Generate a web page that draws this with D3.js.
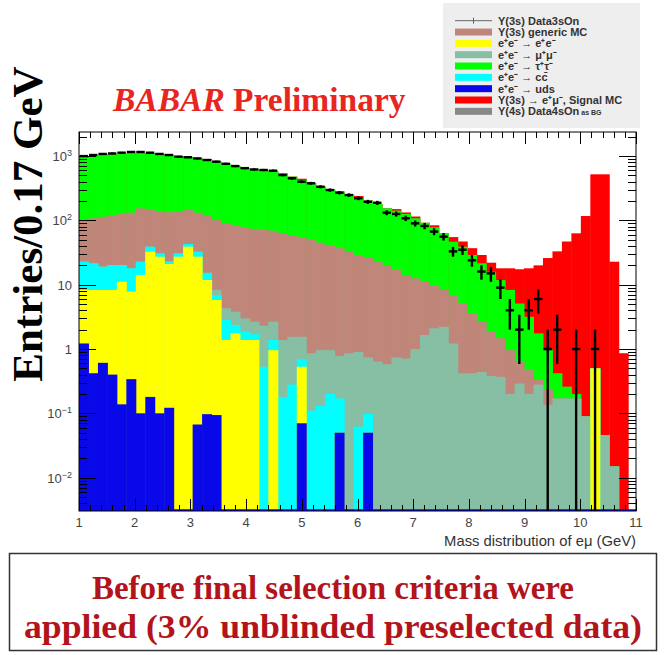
<!DOCTYPE html>
<html>
<head>
<meta charset="utf-8">
<script src="https://cdn.jsdelivr.net/npm/d3@7"></script>
<style>
  html, body { margin: 0; padding: 0; background: #fff; }
  svg { display: block; }
</style>
</head>
<body>
<div id="chart"></div>
<script>
// ── Histogram binning ────────────────────────────────────────────────────
const binStart = 1.0;
const binWidth = 0.17; // GeV, 59 bins

// ── Stack levels (cumulative, as THStack draws them), bins 0..58 ────────
const sumUds = [
  1.22, 0.42, 0.61, 0.40, 0.138, 0.34, 0.10, 0.18, 0.10, 0.122,
  0, 0, 0.067, 0.097, 0.094, 0, 0, 0, 0, 0,
  0, 0, 0, 0.07, 0, 0, 0, 0.05, 0, 0,
  0.05, 0, 0, 0, 0, 0, 0, 0, 0, 0,
  0, 0, 0, 0, 0, 0, 0, 0, 0, 0,
  0, 0, 0, 0, 0, 0, 0, 0, 0,
];
const sumEe = [
  8.3, 8.3, 8.3, 8.3, 11.1, 7.8, 14.2, 32.6, 27.3, 21,
  27.3, 39, 27.3, 11.8, 5.8, 1.38, 1.75, 1.38, 1.38, 0,
  0.96, 0, 0, 0.53, 0, 0, 0, 0.05, 0, 0,
  0.05, 0, 0, 0, 0, 0, 0, 0, 0, 0,
  0, 0, 0, 0, 0, 0, 0, 0, 0, 0,
  0, 0, 0, 0, 0.5, 0, 0, 0, 0,
];
const sumCc = [
  22.8, 21.5, 19.1, 20.2, 20.2, 18, 22.8, 39, 30.7, 23,
  30.7, 43, 32.6, 15, 6.9, 2.83, 2.36, 1.86, 1.7, 0.53,
  1.38, 0.18, 0.28, 0.69, 0.11, 0.13, 0.2, 0.17, 0, 0.062,
  0.098, 0, 0, 0, 0, 0, 0, 0, 0, 0,
  0, 0, 0, 0, 0, 0, 0, 0, 0, 0,
  0, 0, 0, 0, 0.5, 0, 0, 0, 0,
];
const sumMumu = [
  22.8, 21.5, 19.1, 20.2, 20.2, 18, 22.8, 39, 30.7, 23,
  30.7, 43, 32.6, 15.5, 8.3, 4.3, 3.8, 3.0, 2.66, 2.3,
  2.66, 1.38, 1.55, 1.55, 0.86, 0.96, 0.96, 0.78, 0.86, 0.9,
  0.74, 0.64, 0.58, 0.74, 0.71, 1.0, 1.65, 2.1, 2.22, 1.22,
  0.42, 0.42, 0.44, 0.38, 0.37, 0.2, 0.29, 0.2, 0.28, 0.135,
  0.17, 0.17, 0.17, 0.09, 0.5, 0.046, 0.015, 0, 0,
];
const sumGeneric = [
  101, 108, 114, 121, 126, 132, 154, 145, 137, 134,
  137, 145, 132, 117, 101, 90, 82, 78, 74, 71,
  69, 63, 58, 54, 50, 45, 40, 37, 33, 29,
  26, 23, 19.5, 17, 14.2, 12.6, 11.1, 9.9, 8.3, 6.8,
  5.1, 3.6, 2.66, 1.86, 1.47, 0.96, 0.64, 0.47, 0.33, 0.23,
  0.17, 0.17, 0.17, 0.09, 0.5, 0.046, 0.015, 0, 0,
];
const sumTautau = [
  960, 1000, 1040, 1070, 1080, 1110, 1110, 1110, 1080, 1040,
  1000, 960, 920, 870, 820, 760, 700, 650, 620, 600,
  575, 540, 480, 427, 378, 336, 305, 281, 257, 229,
  203, 180, 154, 142, 126, 108, 92, 78, 63, 46.7,
  39, 29, 21.5, 15.9, 11.8, 8.3, 5.1, 3.17, 1.75, 0.96,
  0.42, 0.26, 0.2, 0.09, 0.5, 0.046, 0.015, 0, 0,
];
const sumSignal = [
  960, 1000, 1040, 1070, 1080, 1110, 1110, 1110, 1080, 1040,
  1000, 960, 920, 900, 820, 760, 700, 650, 620, 600,
  575, 540, 480, 445, 378, 336, 305, 281, 257, 240,
  203, 180, 154, 150, 133, 115, 92, 84, 63, 55,
  47, 37, 29, 22, 18, 18, 17.4, 18, 20, 26,
  33, 47, 63, 117, 521, 521, 22.8, 0.86, 0,
];

// ── Data (Y(3s) Data3sOn entries) ────────────────────────────────────────
const dataCounts = [
  1000, 1040, 1080, 1100, 1130, 1160, 1160, 1130, 1080, 1040,
  980, 960, 920, 870, 820, 760, 700, 650, 620, 608,
  593, 508, 452, 400, 378, 334, 297, 270, 248, 221,
  195, 188, 132, 126, 108, 90, 82, 67, 56, 33,
  35, 24, 16, 15, 9, 4, 2, 4, 6, 1,
  2, 0, 1, 0, 1, 0, 0, 0, 0,
];

// ── Axis ticks / labels ──────────────────────────────────────────────────
const xTickLabels = [1, 2, 3, 4, 5, 6, 7, 8, 9, 10, 11];
const yTickPowers = [-2, -1, 0, 1, 2, 3];

const legendLabels = [
  "Υ(3s) Data3sOn",
  "Υ(3s) generic MC",
  "e⁺e⁻ → e⁺e⁻",
  "e⁺e⁻ → μ⁺μ⁻",
  "e⁺e⁻ → τ⁺τ⁻",
  "e⁺e⁻ → cc̄",
  "e⁺e⁻ → uds",
  "Υ(3s) → e⁺μ⁻, Signal MC",
  "Υ(4s) Data4sOn",
];

const captionLines = [
  "Before final selection criteria were",
  "applied (3% unblinded preselected data)",
];

function renderStack(selector) {
  const W = 666;
  const H = 655;
  const sans = "'Liberation Sans', Arial, Helvetica, sans-serif";
  const serif = "'Liberation Serif', 'Times New Roman', Times, serif";

  // ── Frame ──────────────────────────────────────────────────────────────
  const frame = { left: 79, right: 636, top: 132, bottom: 511 };

  const svg = d3
    .select(selector)
    .append("svg")
    .attr("width", W)
    .attr("height", H);

  // ── Scales ─────────────────────────────────────────────────────────────
  const x = d3.scaleLinear().domain([1, 11]).range([frame.left, frame.right]);
  const y = d3
    .scaleLog()
    .domain([0.003027, 2371])
    .range([frame.bottom, frame.top]);

  const edge = (i) => x(binStart + i * binWidth);

  svg
    .append("clipPath")
    .attr("id", "plot-clip")
    .append("rect")
    .attr("x", frame.left)
    .attr("y", frame.top)
    .attr("width", frame.right - frame.left)
    .attr("height", frame.bottom - frame.top);

  const plot = svg.append("g").attr("clip-path", "url(#plot-clip)");

  // ── Stacked histogram (drawn top level first, like THStack) ───────────
  const layers = [
    { values: sumSignal, color: "#ff0000" },
    { values: sumTautau, color: "#00ff00" },
    { values: sumGeneric, color: "#c0867a" },
    { values: sumMumu, color: "#86bfa3" },
    { values: sumCc, color: "#00ffff" },
    { values: sumEe, color: "#ffff00" },
    { values: sumUds, color: "#0808e8" },
  ];

  layers.forEach((layer) => {
    plot
      .append("g")
      .selectAll("rect")
      .data(
        layer.values.map((v, i) => ({ i, v })).filter((d) => d.v > 0),
      )
      .join("rect")
      .attr("x", (d) => edge(d.i))
      .attr("width", (d) => edge(d.i + 1) - edge(d.i) + 0.5)
      .attr("y", (d) => y(d.v))
      .attr("height", (d) => frame.bottom - y(d.v))
      .attr("fill", layer.color);
  });

  // blue outline of the uds histogram along the bottom
  plot
    .append("line")
    .attr("x1", frame.left)
    .attr("x2", frame.right)
    .attr("y1", frame.bottom - 0.5)
    .attr("y2", frame.bottom - 0.5)
    .attr("stroke", "#0808e8")
    .attr("stroke-width", 2.5);

  // ── Data points with Poisson errors ───────────────────────────────────
  const pts = dataCounts
    .map((n, i) => ({ i, n }))
    .filter((d) => d.n > 0);

  const dataG = plot
    .append("g")
    .attr("stroke", "#000")
    .attr("stroke-width", 2.4);

  dataG
    .selectAll("line.hbar")
    .data(pts)
    .join("line")
    .attr("class", "hbar")
    .attr("x1", (d) => edge(d.i) + 0.5)
    .attr("x2", (d) => edge(d.i + 1) - 0.5)
    .attr("y1", (d) => y(d.n))
    .attr("y2", (d) => y(d.n));

  dataG
    .selectAll("line.vbar")
    .data(pts)
    .join("line")
    .attr("class", "vbar")
    .attr("x1", (d) => (edge(d.i) + edge(d.i + 1)) / 2)
    .attr("x2", (d) => (edge(d.i) + edge(d.i + 1)) / 2)
    .attr("y1", (d) => y(d.n + Math.sqrt(d.n)))
    .attr("y2", (d) =>
      d.n - Math.sqrt(d.n) > 0 ? y(d.n - Math.sqrt(d.n)) : frame.bottom + 2,
    );

  // ── Frame & ticks ──────────────────────────────────────────────────────
  const axes = svg.append("g").attr("stroke", "#000").attr("stroke-width", 1);

  axes
    .append("rect")
    .attr("x", frame.left)
    .attr("y", frame.top)
    .attr("width", frame.right - frame.left)
    .attr("height", frame.bottom - frame.top)
    .attr("fill", "none");

  // x ticks: majors at integers, minors every 0.2 GeV
  x.ticks(50).forEach((t) => {
    const major = Math.abs(t - Math.round(t)) < 1e-6;
    const len = major ? 12 : 6;
    const px = Math.round(x(t)) + 0.5;
    axes.append("line").attr("x1", px).attr("x2", px)
      .attr("y1", frame.bottom).attr("y2", frame.bottom - len);
    axes.append("line").attr("x1", px).attr("x2", px)
      .attr("y1", frame.top).attr("y2", frame.top + len);
  });

  // y ticks: decades long, 2..9 short, both sides
  y.ticks().forEach((t) => {
    const m = t / Math.pow(10, Math.floor(Math.log10(t) + 1e-9));
    const major = Math.abs(m - 1) < 1e-6;
    const len = major ? 17 : 8;
    const py = Math.round(y(t)) + 0.5;
    axes.append("line").attr("x1", frame.left).attr("x2", frame.left + len)
      .attr("y1", py).attr("y2", py);
    axes.append("line").attr("x1", frame.right).attr("x2", frame.right - len)
      .attr("y1", py).attr("y2", py);
  });

  // ── Tick labels ───────────────────────────────────────────────────────
  svg
    .append("g")
    .selectAll("text")
    .data(xTickLabels)
    .join("text")
    .attr("x", (d) => x(d))
    .attr("y", 527)
    .attr("text-anchor", "middle")
    .attr("font-family", sans)
    .attr("font-size", 13)
    .attr("fill", "#444")
    .text((d) => d);

  const yLab = svg
    .append("g")
    .attr("font-family", sans)
    .attr("font-size", 13)
    .attr("fill", "#444")
    .attr("text-anchor", "end");

  yTickPowers.forEach((p) => {
    const t = yLab
      .append("text")
      .attr("x", 72)
      .attr("y", y(Math.pow(10, p)) + 5);
    if (p === 0) t.text("1");
    else if (p === 1) t.text("10");
    else {
      t.append("tspan").text("10");
      t.append("tspan")
        .attr("dy", -5)
        .attr("font-size", 9)
        .text(p < 0 ? "−" + -p : p);
    }
  });

  // ── Axis titles ────────────────────────────────────────────────────────
  svg
    .append("text")
    .attr("x", frame.right)
    .attr("y", 546)
    .attr("text-anchor", "end")
    .attr("font-family", sans)
    .attr("font-size", 14.8)
    .attr("fill", "#333")
    .text("Mass distribution of eμ (GeV)");

  svg
    .append("text")
    .attr("transform", "translate(42,224) rotate(-90)")
    .attr("text-anchor", "middle")
    .attr("font-family", serif)
    .attr("font-weight", "bold")
    .attr("font-size", 43)
    .attr("fill", "#000")
    .text("Entries/0.17 GeV");

  // ── Title ──────────────────────────────────────────────────────────────
  const title = svg
    .append("text")
    .attr("x", 113)
    .attr("y", 111)
    .attr("font-family", serif)
    .attr("font-weight", "bold")
    .attr("font-size", 33.5)
    .attr("fill", "#e8251e");
  title.append("tspan").attr("font-style", "italic").text("BABAR");
  title.append("tspan").text(" Preliminary");

  // ── Legend ─────────────────────────────────────────────────────────────
  const legend = svg.append("g");
  legend
    .append("rect")
    .attr("x", 443)
    .attr("y", 3)
    .attr("width", 197)
    .attr("height", 125)
    .attr("fill", "#eeeeee");

  const swatchColors = [
    null, "#c0867a", "#ffff00", "#86bfa3", "#00ff00",
    "#00ffff", "#0808e8", "#ff0000", "#888888",
  ];

  legendLabels.forEach((label, i) => {
    const ry = 20.7 + i * 11.33;
    const row = legend.append("g").attr("transform", `translate(0,${ry})`);
    if (swatchColors[i] === null) {
      row.append("line").attr("x1", 455).attr("x2", 492)
        .attr("stroke", "#666").attr("stroke-width", 1);
      row.append("line").attr("x1", 473.5).attr("x2", 473.5)
        .attr("y1", -3).attr("y2", 3)
        .attr("stroke", "#666").attr("stroke-width", 1);
    } else {
      row.append("rect").attr("x", 455).attr("y", -3.5)
        .attr("width", 37).attr("height", 7).attr("fill", swatchColors[i]);
    }
    const txt = row.append("text")
      .attr("x", 498)
      .attr("y", 4)
      .attr("font-family", sans)
      .attr("font-weight", "bold")
      .attr("font-size", 11)
      .attr("fill", "#333")
      .text(label);
    if (i === legendLabels.length - 1) {
      txt.append("tspan").attr("font-size", 7).text(" as BG");
    }
  });

  // ── Caption box ───────────────────────────────────────────────────────
  svg
    .append("rect")
    .attr("x", 9.5)
    .attr("y", 553.5)
    .attr("width", 647)
    .attr("height", 97)
    .attr("fill", "#fff")
    .attr("stroke", "#333")
    .attr("stroke-width", 1.5);

  const captionWidths = [482, 618];
  const caption = svg
    .append("g")
    .attr("font-family", serif)
    .attr("font-weight", "bold")
    .attr("font-size", 34)
    .attr("fill", "#b3141c");
  captionLines.forEach((line, i) => {
    caption
      .append("text")
      .attr("x", 333 - captionWidths[i] / 2)
      .attr("y", 599 + i * 39)
      .attr("textLength", captionWidths[i])
      .attr("lengthAdjust", "spacingAndGlyphs")
      .text(line);
  });
}

renderStack("#chart");
</script>
</body>
</html>
